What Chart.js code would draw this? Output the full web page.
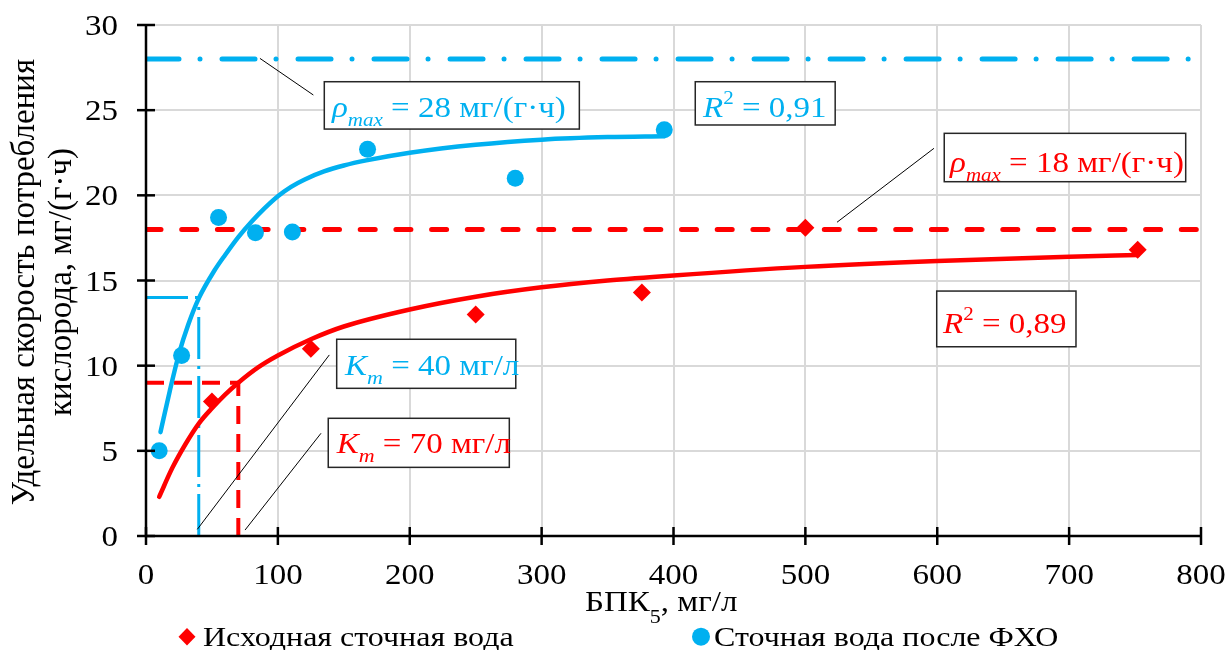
<!DOCTYPE html>
<html><head><meta charset="utf-8">
<script src="https://cdn.jsdelivr.net/npm/chart.js@4/dist/chart.umd.min.js"></script>
<style>html,body{margin:0;padding:0;background:#fff}#wrap{width:1229px;height:650px;position:relative}</style>
</head><body><div id="wrap"><canvas id="c" width="1229" height="650"></canvas></div>
<script>
// ---- data ----
const rawX = [50, 125, 250, 376, 500, 752];
const rawY = [7.9, 11.0, 13.0, 14.3, 18.1, 16.8];
const treatedX = [10, 27, 55, 83, 111, 168, 280, 393];
const treatedY = [5.0, 10.6, 18.7, 17.8, 17.85, 22.7, 21.0, 23.85];
const rawFitX = [10, 20, 30, 40, 50, 60, 70, 85, 100, 125, 150, 200, 250, 300, 350, 400, 500, 600, 700, 752];
const rawFitY = [2.3, 4.0, 5.4, 6.6, 7.5, 8.3, 9.0, 9.9, 10.6, 11.55, 12.3, 13.3, 14.05, 14.6, 15.0, 15.3, 15.8, 16.15, 16.4, 16.5];
const treatedFitX = [11, 18, 25, 32, 40, 52, 60, 70, 80, 90, 100, 110, 120, 135, 150, 167, 200, 250, 300, 350, 393];
const treatedFitY = [6.1, 8.5, 10.7, 12.4, 13.95, 15.6, 16.5, 17.55, 18.45, 19.25, 19.95, 20.5, 20.92, 21.4, 21.75, 22.05, 22.5, 22.97, 23.27, 23.42, 23.47];
const rhoMaxRaw = 18, rhoMaxTreated = 28;
const kmRaw = 70, kmTreated = 40;
const halfRaw = 9, halfTreated = 14;
const xTicks = [0, 100, 200, 300, 400, 500, 600, 700, 800];
const yTicks = [0, 5, 10, 15, 20, 25, 30];
const seriesNames = ['Исходная сточная вода', 'Сточная вода после ФХО'];

const RED = '#FF0000', BLUE = '#00B0F0';
const SY = 0.88;
const FONT = '"Liberation Serif", "Times New Roman", serif';
function fnt(s, i) { return (i ? 'italic ' : '') + s + 'px ' + FONT; }
function rich(ctx, segs, x, y, align, color) {
  ctx.save();
  ctx.translate(x, y); ctx.scale(1, SY);
  ctx.textAlign = 'left'; ctx.textBaseline = 'alphabetic'; ctx.fillStyle = color || '#000';
  let w = 0;
  segs.forEach(g => { ctx.font = fnt(g.s, g.i); w += ctx.measureText(g.t).width; });
  let cx = align === 'center' ? -w / 2 : (align === 'right' ? -w : 0);
  segs.forEach(g => { ctx.font = fnt(g.s, g.i); ctx.fillText(g.t, cx, (g.dy || 0) / SY); cx += ctx.measureText(g.t).width; });
  ctx.restore();
}
const pts = (xs, ys) => xs.map((x, i) => ({ x: x, y: ys[i] }));
const seg = (x1, y1, x2, y2) => [{ x: x1, y: y1 }, { x: x2, y: y2 }];

const boxes = [
  { b: [135.2, 26.67, 328.6, 23.89], t: [141, 24.62], c: BLUE, segs: [{ t: 'ρ', s: 33, i: 1 }, { t: 'max', s: 21, i: 1, dy: 9 }, { t: ' = 28 мг/(г·ч)', s: 33 }] },
  { b: [416.5, 26.67, 522.6, 24.13], t: [422.4, 24.62], c: BLUE, segs: [{ t: 'R', s: 33, i: 1 }, { t: '2', s: 21, dy: -13 }, { t: ' = 0,91', s: 33 }] },
  { b: [605.3, 23.64, 788.4, 20.80], t: [609.7, 21.39], c: RED, segs: [{ t: 'ρ', s: 33, i: 1 }, { t: 'max', s: 21, i: 1, dy: 9 }, { t: ' = 18 мг/(г·ч)', s: 33 }] },
  { b: [599.6, 14.38, 705.2, 11.11], t: [604.4, 11.92], c: RED, segs: [{ t: 'R', s: 33, i: 1 }, { t: '2', s: 21, dy: -13 }, { t: ' = 0,89', s: 33 }] },
  { b: [144.6, 11.55, 280.4, 8.67], t: [150.9, 9.45], c: BLUE, segs: [{ t: 'K', s: 33, i: 1 }, { t: 'm', s: 22, i: 1, dy: 9 }, { t: ' = 40 мг/л', s: 33 }] },
  { b: [138.2, 6.91, 275.5, 4.03], t: [144.6, 4.86], c: RED, segs: [{ t: 'K', s: 33, i: 1 }, { t: 'm', s: 22, i: 1, dy: 9 }, { t: ' = 70 мг/л', s: 33 }] }
];
const leaders = [[86.4, 28.04, 126.9, 25.89], [524, 18.42, 597.5, 22.76], [38.9, 0.39, 139, 10.63], [75.1, 0.35, 132.7, 6.03]];

const deco = {
  id: 'deco',
  afterDraw(chart) {
    const ctx = chart.ctx, xs = chart.scales.x, ys = chart.scales.y;
    const X = v => xs.getPixelForValue(v), Y = v => ys.getPixelForValue(v);
    const L = chart.chartArea.left, B = chart.chartArea.bottom;
    ctx.save();
    // leaders
    ctx.strokeStyle = '#000'; ctx.lineWidth = 1;
    leaders.forEach(l => { ctx.beginPath(); ctx.moveTo(X(l[0]), Y(l[1])); ctx.lineTo(X(l[2]), Y(l[3])); ctx.stroke(); });
    // boxes
    boxes.forEach(bx => {
      const x1 = X(bx.b[0]), y1 = Y(bx.b[1]), x2 = X(bx.b[2]), y2 = Y(bx.b[3]);
      ctx.fillStyle = '#fff'; ctx.fillRect(x1, y1, x2 - x1, y2 - y1);
      ctx.strokeStyle = '#262626'; ctx.lineWidth = 1.5; ctx.strokeRect(x1, y1, x2 - x1, y2 - y1);
      rich(ctx, bx.segs, X(bx.t[0]), Y(bx.t[1]), 'left', bx.c);
    });
    // axes
    ctx.strokeStyle = '#000'; ctx.lineWidth = 2.5; ctx.lineCap = 'butt';
    ctx.beginPath(); ctx.moveTo(L, Y(30)); ctx.lineTo(L, B); ctx.lineTo(X(800), B); ctx.stroke();
    yTicks.forEach(v => { ctx.beginPath(); ctx.moveTo(L - 9, Y(v)); ctx.lineTo(L + 9, Y(v)); ctx.stroke(); });
    xTicks.forEach(v => { ctx.beginPath(); ctx.moveTo(X(v), B - 9); ctx.lineTo(X(v), B + 9); ctx.stroke(); });
    // tick labels
    yTicks.forEach(v => rich(ctx, [{ t: String(v), s: 33 }], 118, Y(v) + 10, 'right'));
    xTicks.forEach(v => rich(ctx, [{ t: String(v), s: 33 }], X(v), 584, 'center'));
    // x title
    rich(ctx, [{ t: 'БПК', s: 33 }, { t: '5', s: 22, dy: 12 }, { t: ', мг/л', s: 33 }], 585, 611, 'left');
    // y title
    ctx.save();
    ctx.fillStyle = '#000'; ctx.textAlign = 'center'; ctx.textBaseline = 'alphabetic';
    ctx.font = fnt(33, 0);
    ctx.translate(0, 282);
    ctx.save(); ctx.translate(34, 0); ctx.rotate(-Math.PI / 2); ctx.fillText('Удельная скорость потребления', 0, 0); ctx.restore();
    ctx.save(); ctx.translate(71, 0); ctx.rotate(-Math.PI / 2); ctx.fillText('кислорода, мг/(г·ч)', 0, 0); ctx.restore();
    ctx.restore();
    // legend
    ctx.fillStyle = RED;
    ctx.beginPath(); ctx.moveTo(187, 628); ctx.lineTo(195.5, 636.7); ctx.lineTo(187, 645.4); ctx.lineTo(178.5, 636.7); ctx.closePath(); ctx.fill();
    ctx.fillStyle = BLUE;
    ctx.beginPath(); ctx.arc(701, 636.7, 9, 0, Math.PI * 2); ctx.fill();
    rich(ctx, [{ t: seriesNames[0], s: 32 }], 203, 646, 'left');
    rich(ctx, [{ t: seriesNames[1], s: 32 }], 714, 646, 'left');
    ctx.restore();
  }
};

const lineDs = (data, color, w, dash, cap) => ({ data: data, showLine: true, pointRadius: 0, borderColor: color, borderWidth: w, borderDash: dash || [], borderCapStyle: cap || 'butt', fill: false });

new Chart(document.getElementById('c'), {
  type: 'scatter',
  data: {
    datasets: [
      { label: seriesNames[0], data: pts(rawX, rawY), pointStyle: 'rectRot', pointRadius: 9, backgroundColor: RED, borderColor: RED, borderWidth: 0 },
      { label: seriesNames[1], data: pts(treatedX, treatedY), pointStyle: 'circle', pointRadius: 8.5, backgroundColor: BLUE, borderColor: BLUE, borderWidth: 0 },
      Object.assign(lineDs(pts(rawFitX, rawFitY), RED, 4.5, [], 'round'), { cubicInterpolationMode: 'monotone' }),
      Object.assign(lineDs(pts(treatedFitX, treatedFitY), BLUE, 4.5, [], 'round'), { cubicInterpolationMode: 'monotone' }),
      lineDs(seg(0, rhoMaxRaw, 800, rhoMaxRaw), RED, 5, [15, 20.7], 'round'),
      lineDs(seg(0, rhoMaxTreated, 800, rhoMaxTreated), BLUE, 5, [33, 21, 0.01, 22], 'round'),
      lineDs(seg(0, halfRaw, kmRaw, halfRaw), RED, 4, [18, 10]),
      lineDs(seg(kmRaw, 0, kmRaw, halfRaw), RED, 4, [18, 10]),
      lineDs(seg(0, halfTreated, kmTreated, halfTreated), BLUE, 3, [42, 7, 3, 7]),
      lineDs(seg(kmTreated, 0, kmTreated, halfTreated), BLUE, 3, [42, 7, 3, 7])
    ]
  },
  options: {
    responsive: false, animation: false, devicePixelRatio: 1,
    layout: { padding: { left: 0, top: 25, right: 28, bottom: 0 } },
    plugins: { legend: { display: false }, tooltip: { enabled: false }, title: { display: false } },
    scales: {
      x: { type: 'linear', min: 0, max: 800, ticks: { display: false, stepSize: 100 }, grid: { color: '#d9d9d9', lineWidth: 2, drawTicks: false }, border: { display: false }, afterFit(s) { s.height = 114; } },
      y: { type: 'linear', min: 0, max: 30, ticks: { display: false, stepSize: 5 }, grid: { color: '#d9d9d9', lineWidth: 2, drawTicks: false }, border: { display: false }, afterFit(s) { s.width = 146; } }
    }
  },
  plugins: [deco]
});
</script>
</body></html>
